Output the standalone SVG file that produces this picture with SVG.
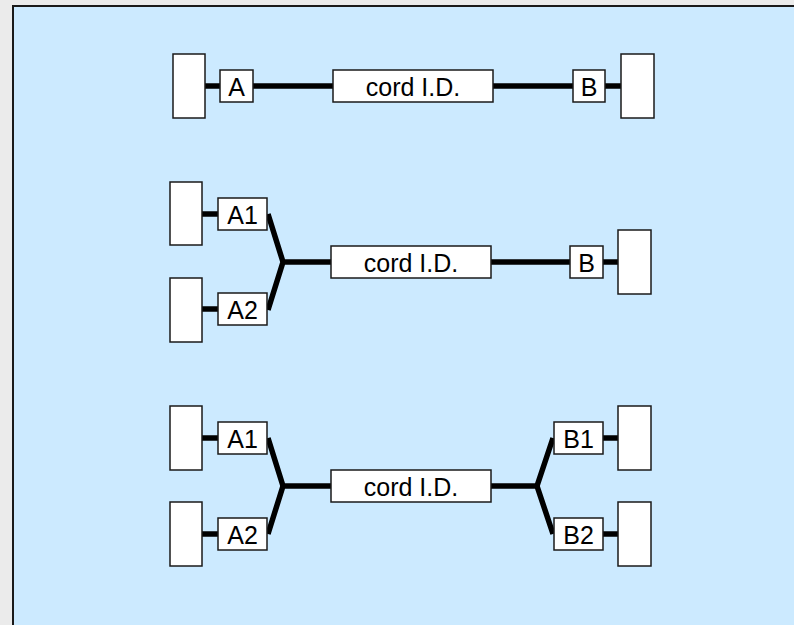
<svg xmlns="http://www.w3.org/2000/svg" width="794" height="625" viewBox="0 0 794 625">
  <style>
    .plug { fill: #ffffff; stroke: #1a1a1a; stroke-width: 1.5; }
    .tag { fill: #ffffff; stroke: #1a1a1a; stroke-width: 1.5; }
    .cord { fill: none; stroke: #000000; stroke-width: 5.5; stroke-linejoin: miter; }
    text { font-family: "Liberation Sans", Arial, sans-serif; font-size: 25px; fill: #000000; text-anchor: middle; dominant-baseline: central; }
  </style>
  <rect x="0" y="0" width="794" height="625" fill="#ebebeb"/>
  <rect x="13" y="6" width="800" height="640" fill="#cceaff" stroke="#1a1a1a" stroke-width="2"/>

  <!-- cords -->
  <g id="connectors">
    <!-- row 1 -->
    <path class="cord" d="M205 86 H220 M253 86 H333 M493 86 H573 M605 86 H621"/>
    <!-- row 2 -->
    <path class="cord" d="M202 214 H218 M202 309 H218 M268 214 L283 262 L268 310 M283 262 H331 M491 262 H570 M603 262 H618"/>
    <!-- row 3 -->
    <path class="cord" d="M202 438 H218 M202 534 H218 M268 438 L283 486 L268 534 M283 486 H331 M491 486 H537 M553 438 L537 486 L553 534 M603 438 H618 M603 534 H618"/>
  </g>

  <!-- row 1: single to single -->
  <g id="r1-plug-a"><rect class="plug" x="173" y="54" width="32" height="64"/></g>
  <g id="r1-tag-a"><rect class="tag" x="220" y="70" width="33" height="32"/><text x="236.5" y="87">A</text></g>
  <g id="r1-cord"><rect class="tag" x="333" y="70" width="160" height="32"/><text x="413" y="87">cord I.D.</text></g>
  <g id="r1-tag-b"><rect class="tag" x="573" y="70" width="32" height="32"/><text x="589" y="87">B</text></g>
  <g id="r1-plug-b"><rect class="plug" x="621" y="54" width="33" height="64"/></g>

  <!-- row 2: split to single -->
  <g id="r2-plug-a1"><rect class="plug" x="170" y="182" width="32" height="63"/></g>
  <g id="r2-plug-a2"><rect class="plug" x="170" y="278" width="32" height="64"/></g>
  <g id="r2-tag-a1"><rect class="tag" x="218" y="198" width="49" height="32"/><text x="242.5" y="215">A1</text></g>
  <g id="r2-tag-a2"><rect class="tag" x="218" y="293" width="49" height="32"/><text x="242.5" y="310">A2</text></g>
  <g id="r2-cord"><rect class="tag" x="331" y="246" width="160" height="32"/><text x="411" y="263">cord I.D.</text></g>
  <g id="r2-tag-b"><rect class="tag" x="570" y="246" width="33" height="32"/><text x="586.5" y="263">B</text></g>
  <g id="r2-plug-b"><rect class="plug" x="618" y="230" width="33" height="64"/></g>

  <!-- row 3: split to split -->
  <g id="r3-plug-a1"><rect class="plug" x="170" y="406" width="32" height="64"/></g>
  <g id="r3-plug-a2"><rect class="plug" x="170" y="502" width="32" height="64"/></g>
  <g id="r3-tag-a1"><rect class="tag" x="218" y="422" width="49" height="32"/><text x="242.5" y="439">A1</text></g>
  <g id="r3-tag-a2"><rect class="tag" x="218" y="518" width="49" height="32"/><text x="242.5" y="535">A2</text></g>
  <g id="r3-cord"><rect class="tag" x="331" y="470" width="160" height="32"/><text x="411" y="487">cord I.D.</text></g>
  <g id="r3-tag-b1"><rect class="tag" x="554" y="422" width="49" height="32"/><text x="578.5" y="439">B1</text></g>
  <g id="r3-tag-b2"><rect class="tag" x="554" y="518" width="49" height="32"/><text x="578.5" y="535">B2</text></g>
  <g id="r3-plug-b1"><rect class="plug" x="618" y="406" width="33" height="64"/></g>
  <g id="r3-plug-b2"><rect class="plug" x="618" y="502" width="33" height="64"/></g>
</svg>
